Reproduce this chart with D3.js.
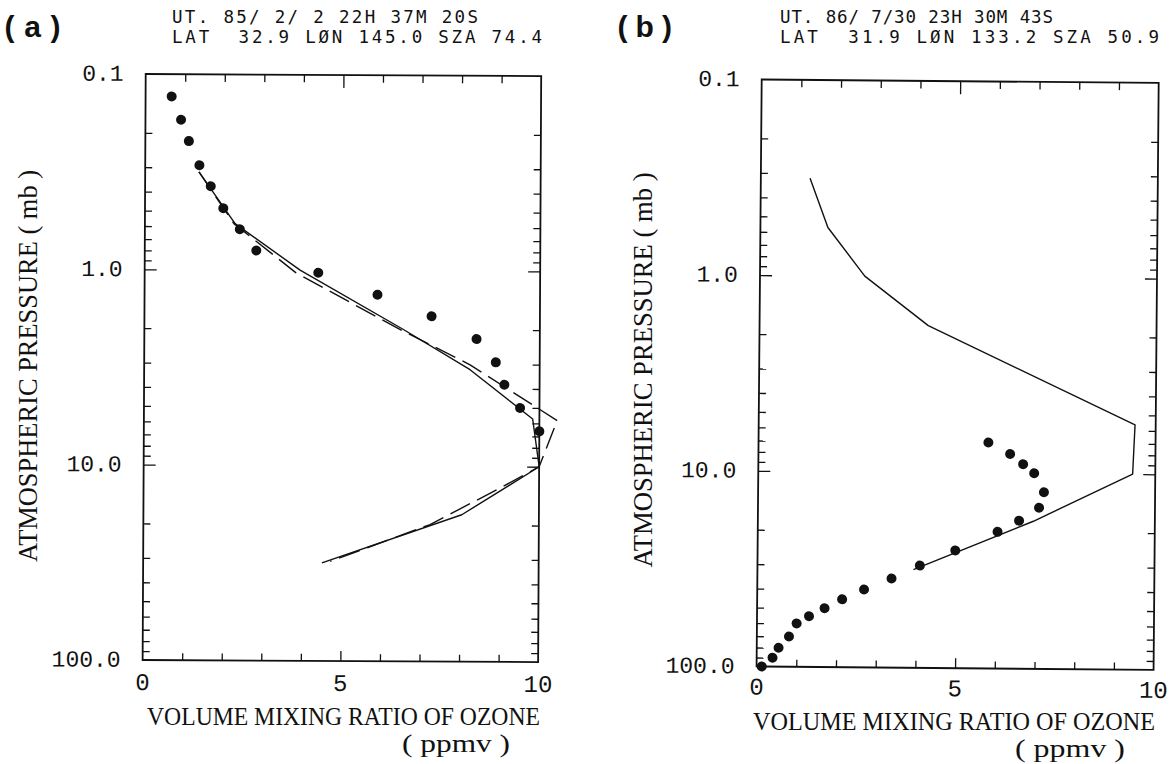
<!DOCTYPE html>
<html>
<head>
<meta charset="utf-8">
<script src="https://cdn.jsdelivr.net/npm/d3@7"></script>
<style>
  body { margin: 0; background: #fff; }
  svg text { white-space: pre; }
</style>
</head>
<body>
<svg id="chart" width="1173" height="764"></svg>
<script>
// ---- Panel (a): observation of 1985-02-02 ----
const aLabel = "(a)";
const aHeader = ["UT. 85/ 2/ 2 22H 37M 20S", "LAT  32.9 L\u00D8N 145.0 SZA 74.4"];
const aDotPressure = [0.13, 0.171, 0.22, 0.292, 0.374, 0.484, 0.62, 0.796, 1.03, 1.33, 1.71, 2.23, 2.93, 3.81, 5.01, 6.59];
const aDotOzone    = [0.66, 0.90, 1.10, 1.37, 1.66, 1.98, 2.40, 2.82, 4.39, 5.89, 7.26, 8.40, 8.89, 9.11, 9.51, 10.0];
const aSolidPressure = [0.316, 0.58, 1.0, 2.0, 3.2, 5.7, 10.0, 17.7, 31.5];
const aSolidOzone    = [1.36, 2.28, 3.93, 6.55, 8.24, 9.83, 10.0, 8.05, 4.52];
const aDashPressure = [0.316, 0.58, 1.03, 2.0, 3.02, 5.8, 10.0, 12.9, 19.9, 30.9];
const aDashOzone    = [1.36, 2.25, 3.82, 6.46, 8.24, 10.45, 10.0, 9.01, 7.25, 4.73];

// ---- Panel (b): observation of 1986-07-30 ----
const bLabel = "(b)";
const bHeader = ["UT. 86/ 7/30 23H 30M 43S", "LAT  31.9 L\u00D8N 133.2 SZA 50.9"];
const bDotPressure = [7, 8, 9, 10, 12.5, 15, 17.5, 20, 25, 30, 35, 40, 45, 50, 55, 60, 70, 80, 90, 100];
const bDotOzone    = [5.79, 6.34, 6.67, 6.95, 7.20, 7.08, 6.58, 6.04, 4.98, 4.09, 3.38, 2.69, 2.14, 1.70, 1.31, 1.00, 0.81, 0.55, 0.40, 0.13];
const bSolidPressure = [0.318, 0.567, 1.0, 1.78, 5.6, 10.0, 17.6, 31.5];
const bSolidOzone    = [1.24, 1.70, 2.64, 4.25, 9.48, 9.43, 6.94, 3.93];

// ---- Shared axes ----
const pressureDomain = [0.1, 100];
const ozoneDomain = [0, 10];
const pressureLabelValues = [0.1, 1, 10, 100];
const pressureLabels = ["0.1", "1.0", "10.0", "100.0"];
const ozoneLabelValues = [0, 5, 10];
const ozoneLabels = ["0", "5", "10"];
const pressureMinorTicks = [0.2,0.3,0.4,0.5,0.6,0.7,0.8,0.9, 2,3,4,5,6,7,8,9, 20,30,40,50,60,70,80,90];
const pressureMajorTicks = [1, 10];
const ozoneMinorTicks = [1,2,3,4,6,7,8,9];
const ozoneMajorTicks = [5];
const xTitle = "VOLUME MIXING RATIO OF OZONE";
const xUnit = "( ppmv )";
const yTitle = "ATMOSPHERIC PRESSURE ( mb )";

const INK = "#111";
const MONO = "'Liberation Mono', 'DejaVu Sans Mono', monospace";
const HEADMONO = "'DejaVu Sans Mono', 'Liberation Mono', monospace";
const SERIF = "'Liberation Serif', 'DejaVu Serif', serif";
const SANS = "'Liberation Sans', Arial, sans-serif";

const svg = d3.select("#chart");

const panels = [
  {
    label: aLabel, header: aHeader,
    dots: aDotPressure.map((p, i) => ({p, v: aDotOzone[i]})),
    lines: [
      {pts: aSolidPressure.map((p, i) => ({p, v: aSolidOzone[i]})), dash: null},
      {pts: aDashPressure.map((p, i) => ({p, v: aDashOzone[i]})), dash: "22,8"}
    ],
    frame: {x: 145.7, y: 74, w: 395.5, h: 586, rot: 0.3},
    labelPos: {x: 4.5, y: 37, len: 56},
    headerPos: [{x: 172, y: 22.7, len: 306}, {x: 172, y: 43.3, len: 370}],
    xLabelDy: 30,
    xTitlePos: {x: 147, y: 725, len: 393},
    xUnitPos: {x: 402, y: 752, len: 108},
    yTitlePos: {x: 37, y: 366, len: 392}
  },
  {
    label: bLabel, header: bHeader,
    dots: bDotPressure.map((p, i) => ({p, v: bDotOzone[i]})),
    lines: [
      {pts: bSolidPressure.map((p, i) => ({p, v: bSolidOzone[i]})), dash: null}
    ],
    frame: {x: 761.7, y: 79.5, w: 397, h: 587, rot: 0.5},
    labelPos: {x: 617.5, y: 37, len: 54.5},
    headerPos: [{x: 780, y: 22.7, len: 273}, {x: 780, y: 43.3, len: 379}],
    xLabelDy: 28,
    xTitlePos: {x: 753, y: 730, len: 402},
    xUnitPos: {x: 1015, y: 757, len: 110},
    yTitlePos: {x: 652, y: 370, len: 395}
  }
];

panels.forEach(P => {
  const f = P.frame;

  // Panel tag and header
  svg.append("text")
    .attr("x", P.labelPos.x).attr("y", P.labelPos.y)
    .attr("textLength", P.labelPos.len).attr("lengthAdjust", "spacing")
    .attr("font-family", SANS).attr("font-weight", "bold").attr("font-size", 30)
    .attr("fill", INK).text(P.label);

  P.header.forEach((line, i) => {
    svg.append("text")
      .attr("x", P.headerPos[i].x).attr("y", P.headerPos[i].y)
      .attr("textLength", P.headerPos[i].len).attr("lengthAdjust", "spacing")
      .attr("font-family", HEADMONO).attr("font-size", 17.5)
      .attr("fill", INK).text(line);
  });

  // Axis titles
  svg.append("text")
    .attr("x", P.xTitlePos.x).attr("y", P.xTitlePos.y)
    .attr("textLength", P.xTitlePos.len).attr("lengthAdjust", "spacingAndGlyphs")
    .attr("font-family", SERIF).attr("font-size", 25)
    .attr("fill", INK).text(xTitle);
  svg.append("text")
    .attr("x", P.xUnitPos.x).attr("y", P.xUnitPos.y)
    .attr("textLength", P.xUnitPos.len).attr("lengthAdjust", "spacingAndGlyphs")
    .attr("font-family", SERIF).attr("font-size", 25)
    .attr("fill", INK).text(xUnit);
  svg.append("text")
    .attr("transform", `translate(${P.yTitlePos.x},${P.yTitlePos.y}) rotate(-90)`)
    .attr("text-anchor", "middle")
    .attr("textLength", P.yTitlePos.len).attr("lengthAdjust", "spacingAndGlyphs")
    .attr("font-family", SERIF).attr("font-size", 27)
    .attr("fill", INK).text(yTitle);

  // Plot frame (slightly tilted like the plotter sheet)
  const g = svg.append("g")
    .attr("transform", `translate(${f.x},${f.y}) rotate(${f.rot})`);

  const x = d3.scaleLinear().domain(ozoneDomain).range([0, f.w]);
  const y = d3.scaleLog().domain(pressureDomain).range([0, f.h]);

  const tickStyle = sel => {
    sel.select(".domain").remove();
    sel.selectAll(".tick line").attr("stroke", INK).attr("stroke-width", 1.3);
    sel.selectAll(".tick text").remove();
  };

  // Inward ticks on all four sides
  const addY = (vals, len) => {
    g.append("g").call(d3.axisLeft(y).tickValues(vals).tickSize(-len).tickFormat(""))
      .call(tickStyle);
    g.append("g").attr("transform", `translate(${f.w},0)`)
      .call(d3.axisRight(y).tickValues(vals).tickSize(-len).tickFormat(""))
      .call(tickStyle);
  };
  const addX = (vals, lenTop, lenBottom) => {
    g.append("g").call(d3.axisTop(x).tickValues(vals).tickSize(-lenTop).tickFormat(""))
      .call(tickStyle);
    g.append("g").attr("transform", `translate(0,${f.h})`)
      .call(d3.axisBottom(x).tickValues(vals).tickSize(-lenBottom).tickFormat(""))
      .call(tickStyle);
  };
  addY(pressureMinorTicks, 7);
  addY(pressureMajorTicks, 12);
  addX(ozoneMinorTicks, 7.5, 7);
  addX(ozoneMajorTicks, 13, 10);

  g.append("rect")
    .attr("x", 0).attr("y", 0).attr("width", f.w).attr("height", f.h)
    .attr("fill", "none").attr("stroke", INK).attr("stroke-width", 1.8);

  // Tick labels
  g.selectAll(".ylab").data(pressureLabelValues).join("text")
    .attr("x", -22).attr("y", d => y(d) + 7)
    .attr("text-anchor", "end")
    .attr("font-family", MONO).attr("font-size", 23).attr("fill", INK)
    .text((d, i) => pressureLabels[i]);
  g.selectAll(".xlab").data(ozoneLabelValues).join("text")
    .attr("x", d => x(d)).attr("y", f.h + P.xLabelDy)
    .attr("text-anchor", "middle")
    .attr("font-family", MONO).attr("font-size", 24).attr("fill", INK)
    .text((d, i) => ozoneLabels[i]);

  // Profiles
  const line = d3.line().x(d => x(d.v)).y(d => y(d.p));
  P.lines.forEach(L => {
    g.append("path").datum(L.pts)
      .attr("d", line)
      .attr("fill", "none").attr("stroke", INK).attr("stroke-width", 1.4)
      .attr("stroke-linejoin", "round")
      .attr("stroke-dasharray", L.dash);
  });

  g.selectAll(".dot").data(P.dots).join("circle")
    .attr("cx", d => x(d.v)).attr("cy", d => y(d.p)).attr("r", 5)
    .attr("fill", INK);
});
</script>
</body>
</html>
